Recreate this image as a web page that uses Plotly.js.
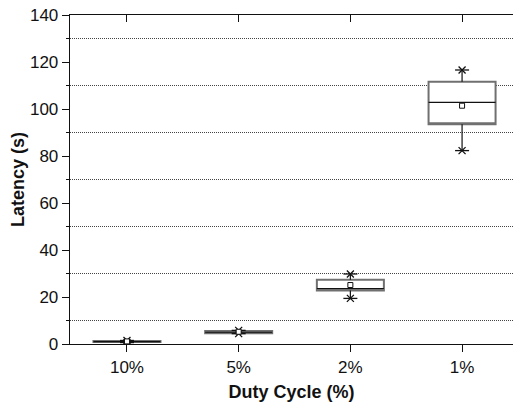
<!DOCTYPE html>
<html>
<head>
<meta charset="utf-8">
<script src="https://cdn.plot.ly/plotly-3.0.1.min.js"></script>
<style>html,body{margin:0;padding:0;background:#fff;}#chart{width:513px;height:404px;}</style>
</head>
<body>
<div id="chart"></div>
<script>
const categories = ["10%", "5%", "2%", "1%"];
const q1Values = [0.8, 4.6, 22.8, 93.5];
const medianValues = [1.0, 5.0, 23.6, 102.8];
const q3Values = [1.3, 5.5, 27.3, 111.6];
const minValues = [0.6, 4.4, 19.4, 82.3];
const maxValues = [1.5, 5.8, 29.8, 116.6];
const meanValues = [1.1, 5.2, 25.1, 101.4];
const yTickValues = [0, 20, 40, 60, 80, 100, 120, 140];
const yGridValues = [10, 30, 50, 70, 90, 110, 130];

const font = "Liberation Sans, Arial, sans-serif";

// whiskers: from Q3 up to max, and from Q1 down to min
const whiskerTrace = {
  type: "scatter",
  mode: "markers",
  x: categories.concat(categories),
  y: q3Values.concat(q1Values),
  marker: {size: 0.1, color: "rgba(0,0,0,0)"},
  error_y: {
    type: "data",
    symmetric: false,
    array: maxValues.map((v, i) => v - q3Values[i]).concat(q1Values.map(() => 0)),
    arrayminus: q3Values.map(() => 0).concat(q1Values.map((v, i) => v - minValues[i])),
    width: 0,
    thickness: 1.2,
    color: "#111"
  },
  showlegend: false,
  hoverinfo: "skip"
};

const boxTrace = {
  type: "box",
  x: categories,
  q1: q1Values,
  median: q1Values,
  q3: q3Values,
  lowerfence: q1Values,
  upperfence: q3Values,
  width: 0.6,
  whiskerwidth: 0,
  fillcolor: "#fff",
  line: {color: "#707070", width: 2},
  boxpoints: false,
  hoverinfo: "skip",
  showlegend: false
};

const medianTrace = {
  type: "box",
  x: categories,
  q1: medianValues,
  median: medianValues,
  q3: medianValues,
  lowerfence: medianValues,
  upperfence: medianValues,
  width: 0.6,
  whiskerwidth: 0,
  fillcolor: "rgba(0,0,0,0)",
  line: {color: "#111", width: 1.1},
  boxpoints: false,
  hoverinfo: "skip",
  showlegend: false
};

const starX = {
  type: "scatter",
  mode: "markers",
  x: categories.concat(categories),
  y: minValues.concat(maxValues),
  marker: {symbol: "x-thin-open", size: 7, color: "#111", line: {color: "#111", width: 1.3}},
  showlegend: false,
  hoverinfo: "skip"
};
const starBar = {
  type: "scatter",
  mode: "markers",
  x: categories.concat(categories),
  y: minValues.concat(maxValues),
  marker: {symbol: "line-ew-open", size: 10, color: "#111", line: {color: "#111", width: 1.3}},
  showlegend: false,
  hoverinfo: "skip"
};

const meanTrace = {
  type: "scatter",
  mode: "markers",
  x: categories,
  y: meanValues,
  marker: {symbol: "square", size: 5, color: "#fff", line: {color: "#111", width: 1}},
  showlegend: false,
  hoverinfo: "skip"
};

const layout = {
  width: 513,
  height: 404,
  margin: {l: 70, r: 0, t: 15, b: 60, pad: 0},
  paper_bgcolor: "#fff",
  plot_bgcolor: "#fff",
  font: {family: font, size: 17, color: "#111"},
  boxmode: "overlay",
  xaxis: {
    type: "category",
    categoryarray: categories,
    range: [-0.51, 3.456],
    showline: true,
    linecolor: "#111",
    linewidth: 1.3,
    ticks: "outside",
    ticklen: 7,
    tickcolor: "#111",
    showgrid: false,
    zeroline: false,
    tickfont: {family: font, size: 17, color: "#111"},
    title: {text: "Duty Cycle (%)", font: {family: font, size: 18, color: "#111", weight: "bold"}, standoff: 9}
  },
  xaxis2: {
    type: "linear",
    overlaying: "x",
    anchor: "y",
    side: "top",
    range: [-0.51, 3.456],
    tickvals: [0, 1, 2, 3],
    showticklabels: false,
    ticks: "inside",
    ticklen: 7,
    tickcolor: "#111",
    showline: true,
    linecolor: "#111",
    linewidth: 1.3,
    showgrid: false,
    zeroline: false
  },
  yaxis: {
    range: [0, 140],
    tickvals: yTickValues,
    showline: true,
    linecolor: "#111",
    linewidth: 1.3,
    ticks: "outside",
    ticklen: 7,
    tickcolor: "#111",
    showgrid: false,
    zeroline: false,
    tickfont: {family: font, size: 17, color: "#111"},
    minor: {tickvals: yGridValues, ticks: "outside", ticklen: 3, tickcolor: "#111", showgrid: true, gridcolor: "#444", griddash: "1px,1px", gridwidth: 1},
    title: {text: "Latency (s)", font: {family: font, size: 18, color: "#111", weight: "bold"}, standoff: 0}
  }
};

const extraTrace = {type: "scatter", x: [0], y: [0], xaxis: "x2", mode: "none", showlegend: false, hoverinfo: "skip"};

Plotly.newPlot("chart", [whiskerTrace, boxTrace, medianTrace, starX, starBar, meanTrace, extraTrace], layout, {staticPlot: true, displayModeBar: false});
</script>
</body>
</html>
